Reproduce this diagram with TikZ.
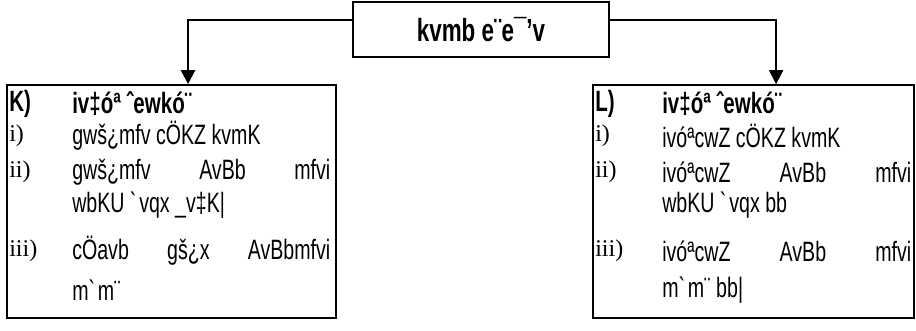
\documentclass[tikz,border=0pt]{standalone}
\usepackage{fontspec}
\setmainfont{Liberation Sans}[FakeStretch=0.7]
\newfontfamily\numfont{Liberation Serif}
\usetikzlibrary{arrows.meta,calc}

\begin{document}
\begin{tikzpicture}[x=0.75pt,y=0.75pt,yscale=-1]
\tikzset{
  box/.style={draw, line width=1.3pt, inner sep=0pt},
  link/.style={line width=1.6pt, -{Triangle[width=10.5pt,length=10.5pt]}},
  num/.style={anchor=west, inner sep=0pt, font=\numfont\fontsize{18}{20}\selectfont},
  head/.style={anchor=west, inner sep=0pt, font=\bfseries\fontsize{22}{24}\selectfont},
  item/.style={anchor=west, inner sep=0pt, font=\fontsize{21}{23}\selectfont}
}
\useasboundingbox (0,0) rectangle (916,330);

% Boxes
\node (govt) [box, minimum width=192pt, minimum height=41.25pt, font=\bfseries\fontsize{24}{26}\selectfont] at (481,29.5) {kvmb e¨e¯’v};
\node (parl) [box, minimum width=246.75pt, minimum height=174.75pt] at (171.5,201.5) {};
\node (pres) [box, minimum width=240.75pt, minimum height=174.75pt] at (753.5,201.5) {};

% Arrows
\draw [link] ($(govt.north west)!0.33!(govt.south west)$) -| ($(parl.north west)!0.55!(parl.north east)$);
\draw [link] ($(govt.north east)!0.33!(govt.south east)$) -| ($(pres.north west)!0.57!(pres.north east)$);

% Text Node
\node (parlK) [head] at (9,104) {K)};
\node (parlT) [head] at (72,104) {iv‡óª ˆewkó¨};
\node (parl1) [num] at (9,136) {i)};
\node (parl1t) [item] at (72,136) {gwš¿mfv cÖKZ kvmK};
\node (parl2) [num] at (9,172) {ii)};
\node (parl2t) [item] at (72,172) {\makebox[193.5pt][s]{gwš¿mfv AvBb mfvi}};
\node (parl2u) [item] at (72,205) {wbKU \textasciigrave vqx \_v‡K|};
\node (parl3) [num] at (9,251) {iii)};
\node (parl3t) [item] at (72,251) {\makebox[193.5pt][s]{cÖavb gš¿x AvBbmfvi}};
\node (parl3u) [item] at (72,290) {m\textasciigrave m¨};

% Text Node
\node (presL) [head] at (595,104) {L)};
\node (presT) [head] at (662,104) {iv‡óª ˆewkó¨};
\node (pres1) [num] at (595,136) {i)};
\node (pres1t) [item] at (662,136) {ivóªcwZ cÖKZ kvmK};
\node (pres2) [num] at (595,172) {ii)};
\node (pres2t) [item] at (662,172) {\makebox[186.75pt][s]{ivóªcwZ AvBb mfvi}};
\node (pres2u) [item] at (662,205) {wbKU \textasciigrave vqx bb};
\node (pres3) [num] at (595,251) {iii)};
\node (pres3t) [item] at (662,251) {\makebox[186.75pt][s]{ivóªcwZ AvBb mfvi}};
\node (pres3u) [item] at (662,290) {m\textasciigrave m¨ bb|};
\end{tikzpicture}
\end{document}
